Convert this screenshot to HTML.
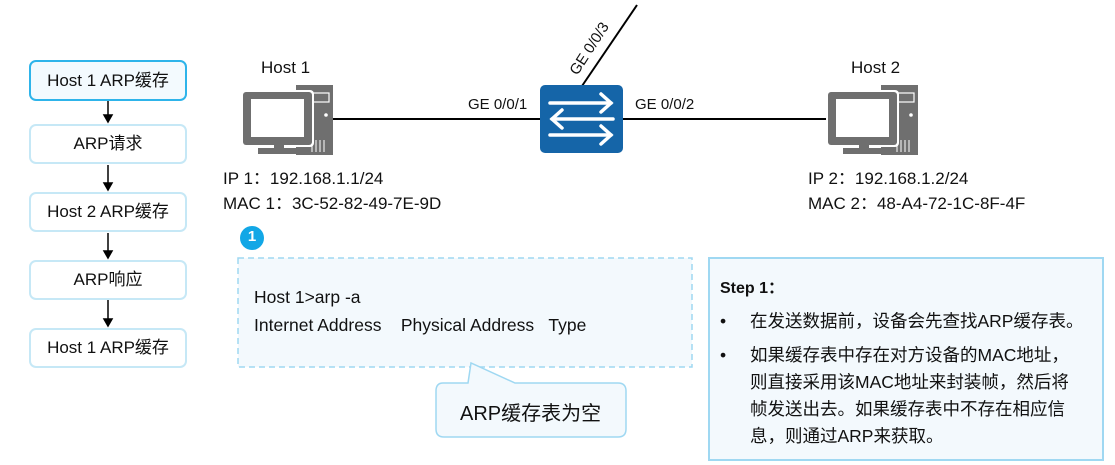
<!DOCTYPE html>
<html><head><meta charset="utf-8"><style>
body{margin:0;width:1115px;height:465px;background:#fff;position:relative;overflow:hidden;font-family:"Liberation Sans","Noto Sans CJK SC",sans-serif;color:#111}
.a{position:absolute;white-space:nowrap}
.fb{position:absolute;left:29px;width:158px;border:2px solid #c6e8f6;border-radius:7px;background:#fff;text-align:center;font-size:17px;box-sizing:border-box}
</style></head><body>
<svg width="1115" height="465" style="position:absolute;left:0;top:0">
<defs>
<g id="pc">
<rect x="60" y="3" width="37" height="70" fill="#6f6f6f"/>
<rect x="64" y="11" width="29" height="9" fill="none" stroke="#fff" stroke-width="1.2"/>
<circle cx="90" cy="33" r="1.8" fill="#fff"/>
<g stroke="#fff" stroke-width="1"><line x1="80" y1="58" x2="80" y2="70"/><line x1="84" y1="58" x2="84" y2="70"/><line x1="88" y1="58" x2="88" y2="70"/><line x1="76" y1="60" x2="76" y2="70"/></g>
<rect x="5" y="8" width="73" height="57" rx="4" fill="#fff"/>
<rect x="7" y="10" width="69" height="53" rx="3" fill="#6f6f6f"/>
<rect x="15" y="17" width="53" height="38" fill="#fff"/>
<rect x="38" y="63" width="10" height="4" fill="#6f6f6f"/>
<rect x="22" y="66" width="42" height="6" fill="#6f6f6f"/>
</g>
</defs>
<line x1="330" y1="119" x2="545" y2="119" stroke="#000" stroke-width="2"/>
<line x1="615" y1="119" x2="832" y2="119" stroke="#000" stroke-width="2"/>
<line x1="582" y1="86" x2="637" y2="5" stroke="#000" stroke-width="2"/>
<use href="#pc" x="236" y="82"/>
<use href="#pc" x="821" y="82"/>
<rect x="540" y="85" width="83" height="68" rx="5" fill="#1565a8"/>
<g stroke="#fff" stroke-width="3.5" fill="none" stroke-linecap="round">
<line x1="550" y1="103" x2="611" y2="103"/><polyline points="601,94 611,103 601,112"/>
<line x1="552" y1="119" x2="613" y2="119"/><polyline points="562,110 552,119 562,128"/>
<line x1="550" y1="135" x2="611" y2="135"/><polyline points="601,126 611,135 601,144"/>
</g>
<rect x="238" y="258" width="454" height="109" fill="#f3f9fd" stroke="#9fd8f2" stroke-width="1.5" stroke-dasharray="6,4"/>
<path d="M443,383 L468,383 L471,363 L515,383 L618,383 Q626,383 626,391 L626,429 Q626,437 618,437 L444,437 Q436,437 436,429 L436,391 Q436,383 443,383 Z" fill="#f3f9fd" stroke="#9fd8f2" stroke-width="1.5"/>
<rect x="709" y="258" width="394" height="202" fill="#f3f9fd" stroke="#9fd8f2" stroke-width="2"/>
<circle cx="252" cy="238" r="12" fill="#12a7e6"/>
<g stroke="#000" stroke-width="1.5" fill="#000">
<line x1="108" y1="101" x2="108" y2="117"/><polygon points="104,115 112,115 108,122"/>
<line x1="108" y1="165" x2="108" y2="185"/><polygon points="104,183 112,183 108,190"/>
<line x1="108" y1="233" x2="108" y2="253"/><polygon points="104,251 112,251 108,258"/>
<line x1="108" y1="300" x2="108" y2="321"/><polygon points="104,319 112,319 108,326"/>
</g>
</svg>
<div class="fb" style="top:60px;height:41px;line-height:37px;border-color:#2eb4ea;background:#f3fafe">Host 1 ARP缓存</div>
<div class="fb" style="top:124px;height:40px;line-height:36px">ARP请求</div>
<div class="fb" style="top:192px;height:40px;line-height:36px">Host 2 ARP缓存</div>
<div class="fb" style="top:260px;height:40px;line-height:36px">ARP响应</div>
<div class="fb" style="top:328px;height:40px;line-height:36px">Host 1 ARP缓存</div>
<div class="a" style="left:261px;top:58px;font-size:17px">Host 1</div>
<div class="a" style="left:851px;top:58px;font-size:17px">Host 2</div>
<div class="a" style="left:468px;top:96px;font-size:15px">GE 0/0/1</div>
<div class="a" style="left:635px;top:96px;font-size:15px">GE 0/0/2</div>
<div class="a" style="left:555px;top:40px;width:70px;height:18px;line-height:18px;text-align:center;font-size:15px;transform:rotate(-57deg);transform-origin:center center">GE 0/0/3</div>
<div class="a" style="left:223px;top:166px;font-size:17px;line-height:25px">IP 1：192.168.1.1/24<br>MAC 1：3C-52-82-49-7E-9D</div>
<div class="a" style="left:808px;top:166px;font-size:17px;line-height:25px">IP 2：192.168.1.2/24<br>MAC 2：48-A4-72-1C-8F-4F</div>
<div class="a" style="left:247px;top:228px;font-size:15px;font-weight:bold;color:#fff;width:10px;text-align:center">1</div>
<div class="a" style="left:254px;top:283px;font-size:17.5px;line-height:28px">Host 1&gt;arp -a<br>Internet Address&nbsp;&nbsp;&nbsp; Physical Address&nbsp;&nbsp; Type</div>
<div class="a" style="left:460px;top:397px;font-size:20px">ARP缓存表为空</div>
<div class="a" style="left:720px;top:274px;font-size:16px;font-weight:bold">Step 1：</div>
<div class="a" style="left:720px;top:308px;font-size:17.5px;line-height:27px">•</div>
<div class="a" style="left:750px;top:308px;font-size:17.5px;line-height:27px">在发送数据前，设备会先查找ARP缓存表。</div>
<div class="a" style="left:720px;top:342px;font-size:17.5px;line-height:27px">•</div>
<div class="a" style="left:750px;top:342px;font-size:17.5px;line-height:27px">如果缓存表中存在对方设备的MAC地址，<br>则直接采用该MAC地址来封装帧，然后将<br>帧发送出去。如果缓存表中不存在相应信<br>息，则通过ARP来获取。</div>
</body></html>
